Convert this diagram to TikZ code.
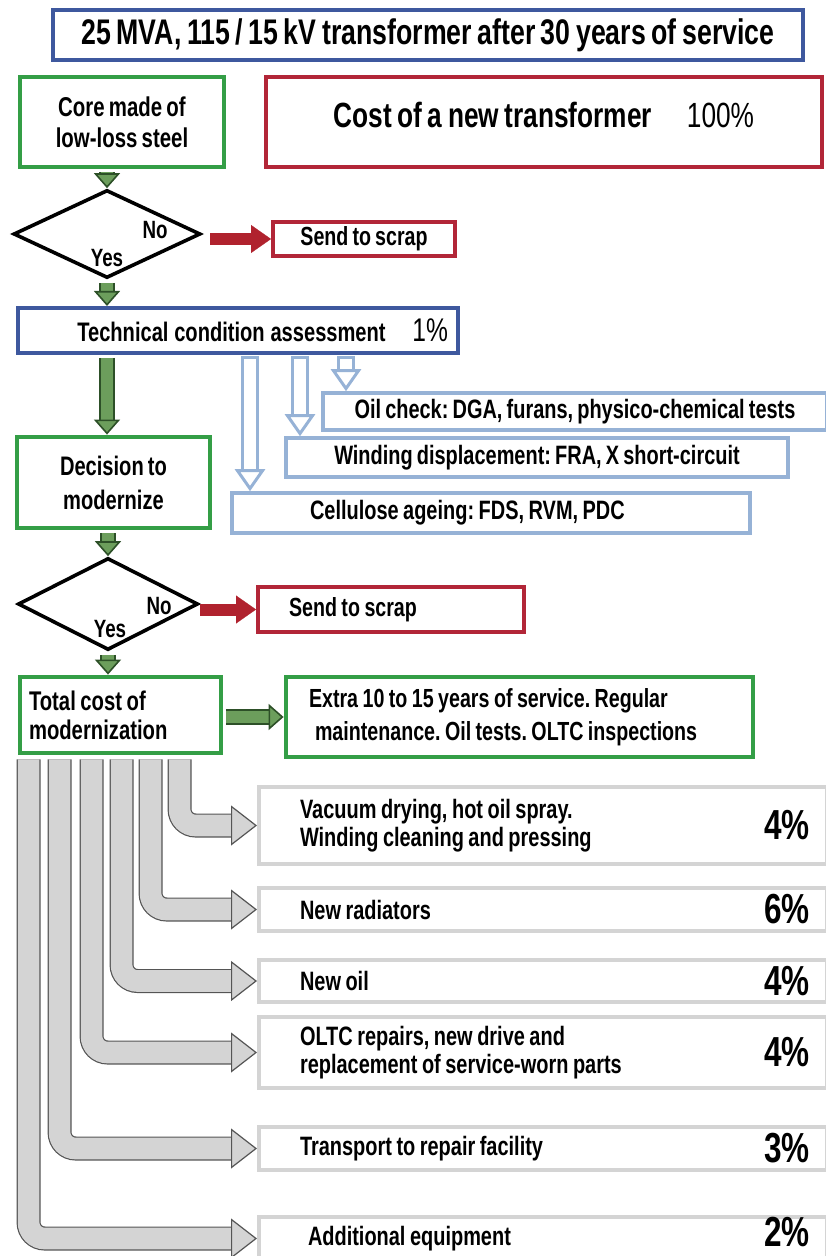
\documentclass[tikz,border=0pt]{standalone}
\usepackage{fontspec}
\setmainfont{Liberation Sans}[FakeStretch=0.75, WordSpace=0.75]
\usetikzlibrary{shapes.geometric, arrows.meta}
\frenchspacing

\definecolor{titleblue}{RGB}{62,88,158}
\definecolor{boxgreen}{RGB}{52,158,70}
\definecolor{boxred}{RGB}{178,38,56}
\definecolor{lightblue}{RGB}{150,178,214}
\definecolor{boxgrey}{RGB}{212,212,212}
\definecolor{arrgreen}{RGB}{108,158,92}
\definecolor{arrgreenline}{RGB}{45,80,40}
\definecolor{arrred}{RGB}{176,34,46}
\definecolor{arrgrey}{RGB}{212,212,212}
\definecolor{arrgreyline}{RGB}{85,85,85}

\begin{document}
\begin{tikzpicture}[x=0.5pt, y=-0.5pt,
  every node/.style={inner sep=0pt, font=\bfseries},
  tight/.style={execute at begin node={\spaceskip=0.17em plus 0.05em\xspaceskip=0.17em plus 0.05em\relax}},
  titlebox/.style={draw=titleblue, line width=2pt},
  greenbox/.style={draw=boxgreen, line width=2.4pt},
  redbox/.style={draw=boxred, line width=2pt},
  blbox/.style={draw=lightblue, line width=1.8pt, font=\fontsize{13.3}{15}\selectfont\bfseries},
  costbox/.style={draw=boxgrey, line width=2pt, minimum width=284pt, text width=243pt, inner xsep=20.5pt, align=left, tight, font=\fontsize{13.3}{14}\selectfont\bfseries},
  pct/.style={anchor=east, font=\fontsize{21}{24}\selectfont\bfseries},
  decision/.style={diamond, draw=black, line width=1.8pt},
  lbl/.style={font=\fontsize{12.5}{14}\selectfont\bfseries},
  garrow/.style={line width=6pt, draw=arrgreen, shorten <=1.5pt,
    preaction={draw=arrgreenline, line width=7.6pt, -, shorten <=1.5pt, shorten >=6.5pt},
    -{Triangle[length=7.5pt, width=13pt, line width=0.8pt, color=arrgreenline, fill=arrgreen]}},
  redarrow/.style={line width=6pt, draw=arrred,
    -{Triangle[length=10pt, width=14pt, line width=0.1pt]}},
  lbarrow/.style={line width=6pt, draw=white,
    preaction={draw=lightblue, line width=9pt, -, shorten <=-1.5pt, shorten >=10pt},
    -{Triangle[length=11pt, width=15pt, line width=1.5pt, color=lightblue, fill=white]}},
  greyarrow/.style={line width=10.8pt, draw=arrgrey, rounded corners=8pt,
    preaction={draw=arrgreyline, line width=12pt, -, shorten >=12.5pt},
    -{Triangle[length=13pt, width=20pt, line width=0.6pt, color=arrgreyline, fill=arrgrey]}}]

  \useasboundingbox (0,0) rectangle (825,1256);

  \node[titlebox, minimum width=375pt, minimum height=25pt, font=\fontsize{17.8}{20}\selectfont\bfseries] (title) at (428,35) {25 MVA, 115 / 15 kV transformer after 30 years of service};

  \node[greenbox, minimum width=102pt, minimum height=45pt, align=center, font=\fontsize{13.6}{15.5}\selectfont\bfseries] (core) at (122,122) {Core made of\\low-loss steel};
  \node[redbox, minimum width=278pt, minimum height=45pt, text depth=7pt, font=\fontsize{17.5}{20}\selectfont\bfseries] (cost) at (544,122) {Cost of a new transformer\quad{\mdseries 100\%}};

  \node[decision, minimum width=93.5pt, minimum height=44pt] (d1) at (107,234) {};
  \node[lbl] (no1) at (155,230) {No};
  \node[lbl] (yes1) at (107,258) {Yes};
  \node[redbox, minimum width=91pt, minimum height=17pt, font=\fontsize{13.1}{15}\selectfont\bfseries] (scrap1) at (364,239) {Send to scrap};

  \node[titlebox, tight, minimum height=22.5pt, text width=210pt, inner xsep=5pt, align=right, font=\fontsize{13.4}{15}\selectfont\bfseries] (tech) at (238,330.5) {Technical condition assessment\quad{\mdseries\fontsize{16.4}{18}\selectfont 1\%}};

  \node[greenbox, minimum width=96.5pt, minimum height=45.5pt, align=center, font=\fontsize{13.4}{15}\selectfont\bfseries] (dec) at (113.5,482.5) {Decision to\\[2pt]modernize};

  \node[blbox, minimum width=252pt, minimum height=18.5pt] (oil) at (575,411.5) {Oil check: DGA, furans, physico-chemical tests};
  \node[blbox, minimum width=251pt, minimum height=19.5pt] (wind) at (537,457.5) {Winding displacement: FRA, X short-circuit};
  \node[blbox, tight, minimum height=20pt, text width=181pt, inner xsep=39pt, align=left] (cell) at (491,513) {Cellulose ageing: FDS, RVM, PDC};

  \node[decision, minimum width=90pt, minimum height=46pt] (d2) at (108,604) {};
  \node[lbl] (no2) at (159,606) {No};
  \node[lbl] (yes2) at (110,629) {Yes};
  \node[redbox, tight, minimum height=22.5pt, text width=102pt, inner xsep=15.5pt, align=left, font=\fontsize{13.1}{15}\selectfont\bfseries] (scrap2) at (391,609.5) {Send to scrap};

  \node[greenbox, tight, minimum height=38pt, text width=91.5pt, inner xsep=4.5pt, align=left, font=\fontsize{13.5}{14.5}\selectfont\bfseries] (tot) at (120.5,715) {Total cost of\\modernization};
  \node[greenbox, tight, minimum height=40pt, text width=210.5pt, inner xsep=11.5pt, align=left, font=\fontsize{13.1}{14.5}\selectfont\bfseries] (extra) at (519.5,717) {Extra 10 to 15 years of service. Regular\\[2pt]\hspace*{3pt}maintenance. Oil tests. OLTC inspections};

  % cost items
  \node[costbox, minimum height=38.5pt] (vac) at (543,825.5) {Vacuum drying, hot oil spray.\\Winding cleaning and pressing};
  \node[costbox, minimum height=21.5pt] (rad) at (543,909.5) {New radiators};
  \node[costbox, minimum height=21pt] (noil) at (543,981) {New oil};
  \node[costbox, minimum height=35.5pt] (oltc) at (543,1052.5) {OLTC repairs, new drive and\\replacement of service-worn parts};
  \node[costbox, minimum height=21.5pt] (trans) at (543,1148.5) {Transport to repair facility};
  \node[costbox, minimum height=21.5pt] (addeq) at (543,1238.5) {\hspace*{4pt}Additional equipment};

  \node[pct] (vacp) at ([xshift=-9.5pt]vac.east) {4\%};
  \node[pct] (radp) at ([xshift=-9.5pt]rad.east) {6\%};
  \node[pct] (noilp) at ([xshift=-9.5pt]noil.east) {4\%};
  \node[pct] (oltcp) at ([xshift=-9.5pt]oltc.east) {4\%};
  \node[pct] (transp) at ([xshift=-9.5pt]trans.east) {3\%};
  \node[pct] (addeqp) at ([xshift=-9.5pt,yshift=3.5pt]addeq.east) {2\%};

  \draw[garrow] (d1.north |- core.south) -- (d1.north);
  \draw[garrow] (d1.south) -- (d1.south |- tech.north);
  \draw[garrow] (tech.south -| d1.south) -- (dec.north -| d1.south);
  \draw[garrow] (dec.south -| d2.north) -- (d2.north);
  \draw[garrow] (d2.south) -- (d2.south |- tot.north);
  \draw[garrow] (tot.east |- extra.west) -- (extra.west);

  \draw[redarrow, shorten <=4pt] (d1.east |- scrap1.west) -- (scrap1.west);
  \draw[redarrow] (d2.east |- scrap2.west) -- (scrap2.west);

  \coordinate (ob1) at (250,359);
  \coordinate (ob2) at (300,359);
  \coordinate (ob3) at (346,359);
  \draw[lbarrow] (ob1) -- (ob1 |- cell.north);
  \draw[lbarrow] (ob2) -- (ob2 |- wind.north);
  \draw[lbarrow] (ob3) -- (ob3 |- oil.north);

  \foreach \b/\dx in {vac/81, rad/66.5, noil/52, oltc/37, trans/21, addeq/5.5}
    \draw[greyarrow] ([xshift=\dx pt, yshift=-2pt]tot.south west) |- (\b.west);
\end{tikzpicture}
\end{document}
